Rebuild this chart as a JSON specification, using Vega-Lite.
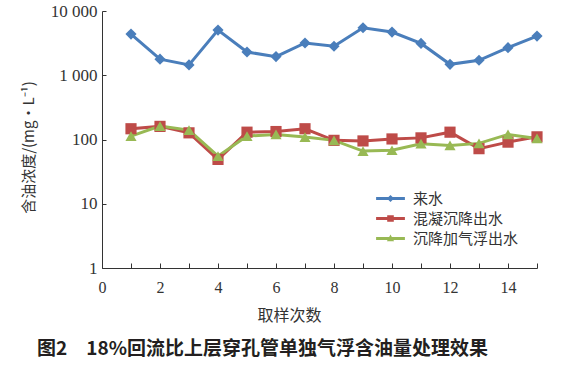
{
  "$schema": "https://vega.github.io/schema/vega-lite/v6.json",
  "width": 435,
  "height": 257,
  "autosize": {"type": "none"},
  "padding": {"left": 102, "top": 11, "right": 37, "bottom": 99},
  "background": "white",
  "title": {
    "text": "图2　18%回流比上层穿孔管单独气浮含油量处理效果",
    "orient": "bottom",
    "anchor": "middle",
    "dx": -57,
    "offset": 17,
    "font": "Noto Sans CJK SC",
    "fontSize": 19,
    "fontWeight": "bold",
    "color": "#231f20"
  },
  "config": {
    "view": {"stroke": null},
    "axis": {"grid": false, "domainColor": "#333333", "tickColor": "#333333", "labelColor": "#333333", "titleColor": "#333333", "labelFont": "Liberation Serif", "titleFont": "Noto Sans CJK SC", "titleFontWeight": "normal"}
  },
  "data": {
    "values": [
      {"x": 1, "series": "来水", "value": 4370},
      {"x": 2, "series": "来水", "value": 1780},
      {"x": 3, "series": "来水", "value": 1450},
      {"x": 4, "series": "来水", "value": 5040},
      {"x": 5, "series": "来水", "value": 2300},
      {"x": 6, "series": "来水", "value": 1950},
      {"x": 7, "series": "来水", "value": 3180},
      {"x": 8, "series": "来水", "value": 2830},
      {"x": 9, "series": "来水", "value": 5480},
      {"x": 10, "series": "来水", "value": 4700},
      {"x": 11, "series": "来水", "value": 3130},
      {"x": 12, "series": "来水", "value": 1480},
      {"x": 13, "series": "来水", "value": 1710},
      {"x": 14, "series": "来水", "value": 2690},
      {"x": 15, "series": "来水", "value": 4070},
      {"x": 1, "series": "混凝沉降出水", "value": 147},
      {"x": 2, "series": "混凝沉降出水", "value": 160},
      {"x": 3, "series": "混凝沉降出水", "value": 127},
      {"x": 4, "series": "混凝沉降出水", "value": 49},
      {"x": 5, "series": "混凝沉降出水", "value": 130},
      {"x": 6, "series": "混凝沉降出水", "value": 133},
      {"x": 7, "series": "混凝沉降出水", "value": 147},
      {"x": 8, "series": "混凝沉降出水", "value": 97},
      {"x": 9, "series": "混凝沉降出水", "value": 95},
      {"x": 10, "series": "混凝沉降出水", "value": 102},
      {"x": 11, "series": "混凝沉降出水", "value": 106},
      {"x": 12, "series": "混凝沉降出水", "value": 130},
      {"x": 13, "series": "混凝沉降出水", "value": 72},
      {"x": 14, "series": "混凝沉降出水", "value": 91},
      {"x": 15, "series": "混凝沉降出水", "value": 110},
      {"x": 1, "series": "沉降加气浮出水", "value": 113},
      {"x": 2, "series": "沉降加气浮出水", "value": 162},
      {"x": 3, "series": "沉降加气浮出水", "value": 140},
      {"x": 4, "series": "沉降加气浮出水", "value": 55},
      {"x": 5, "series": "沉降加气浮出水", "value": 113},
      {"x": 6, "series": "沉降加气浮出水", "value": 120},
      {"x": 7, "series": "沉降加气浮出水", "value": 109},
      {"x": 8, "series": "沉降加气浮出水", "value": 97},
      {"x": 9, "series": "沉降加气浮出水", "value": 66},
      {"x": 10, "series": "沉降加气浮出水", "value": 68},
      {"x": 11, "series": "沉降加气浮出水", "value": 86},
      {"x": 12, "series": "沉降加气浮出水", "value": 81},
      {"x": 13, "series": "沉降加气浮出水", "value": 87},
      {"x": 14, "series": "沉降加气浮出水", "value": 120},
      {"x": 15, "series": "沉降加气浮出水", "value": 104}
    ]
  },
  "encoding": {
    "x": {
      "field": "x", "type": "quantitative",
      "scale": {"domain": [0, 15], "nice": false, "zero": false},
      "axis": {
        "title": "取样次数", "titleFontSize": 16, "titleX": 187, "titleY": 39,
        "values": [0,1,2,3,4,5,6,7,8,9,10,11,12,13,14,15],
        "labelExpr": "datum.value % 2 === 0 && datum.value < 15 ? datum.value : ''",
        "tickSize": -5, "labelPadding": 16, "labelFontSize": 16, "labelFlush": false, "labelOverlap": false
      }
    },
    "y": {
      "field": "value", "type": "quantitative",
      "scale": {"type": "log", "domain": [1, 10000], "nice": false},
      "axis": {
        "title": "含油浓度/(mg·L⁻¹)", "titleFontSize": 15, "titleX": -66, "titleY": 136,
        "values": [1, 10, 100, 1000, 10000],
        "labelExpr": "replace(format(datum.value, ',d'), ',', ' ')",
        "tickSize": -4, "labelPadding": 9, "labelFontSize": 17, "labelFlush": false, "labelOverlap": false
      }
    },
    "color": {
      "field": "series", "type": "nominal",
      "scale": {"domain": ["来水", "混凝沉降出水", "沉降加气浮出水"], "range": ["#4a7ebb", "#be4b48", "#98b954"]},
      "legend": {
        "orient": "none", "legendX": 281, "legendY": 180, "padding": 0,
        "title": null, "labelFont": "Noto Sans CJK SC", "labelFontSize": 15, "labelColor": "#333333",
        "symbolSize": 36, "labelOffset": 15, "rowPadding": 4,
        "encode": {
          "symbols": {
            "update": {
              "shape": {"signal": "datum.value === '来水' ? 'M-4.8,-0.5H4.8V0.5H-4.8Z M0,-1.2L1.2,0L0,1.2L-1.2,0Z' : datum.value === '混凝沉降出水' ? 'M-4.8,-0.5H4.8V0.5H-4.8Z M-1.1,-1.1H1.1V1.1H-1.1Z' : 'M-4.8,-0.5H4.8V0.5H-4.8Z M0,-1.3L1.2,0.9H-1.2Z'"},
              "fill": {"signal": "datum.value === '来水' ? '#4a7ebb' : datum.value === '混凝沉降出水' ? '#be4b48' : '#98b954'"},
              "stroke": {"value": "transparent"},
              "strokeWidth": {"value": 0},
              "opacity": {"value": 1},
              "fillOpacity": {"value": 1}
            }
          }
        }
      }
    }
  },
  "layer": [
    {"mark": {"type": "line", "strokeWidth": 3}},
    {
      "transform": [{"filter": "datum.series === '来水'"}],
      "mark": {"type": "point", "shape": "diamond", "filled": true, "opacity": 1, "size": 125}
    },
    {
      "transform": [{"filter": "datum.series === '混凝沉降出水'"}],
      "mark": {"type": "point", "shape": "square", "filled": true, "opacity": 1, "size": 125}
    },
    {
      "transform": [{"filter": "datum.series === '沉降加气浮出水'"}],
      "mark": {"type": "point", "shape": "triangle-up", "filled": true, "opacity": 1, "size": 125}
    }
  ]
}
